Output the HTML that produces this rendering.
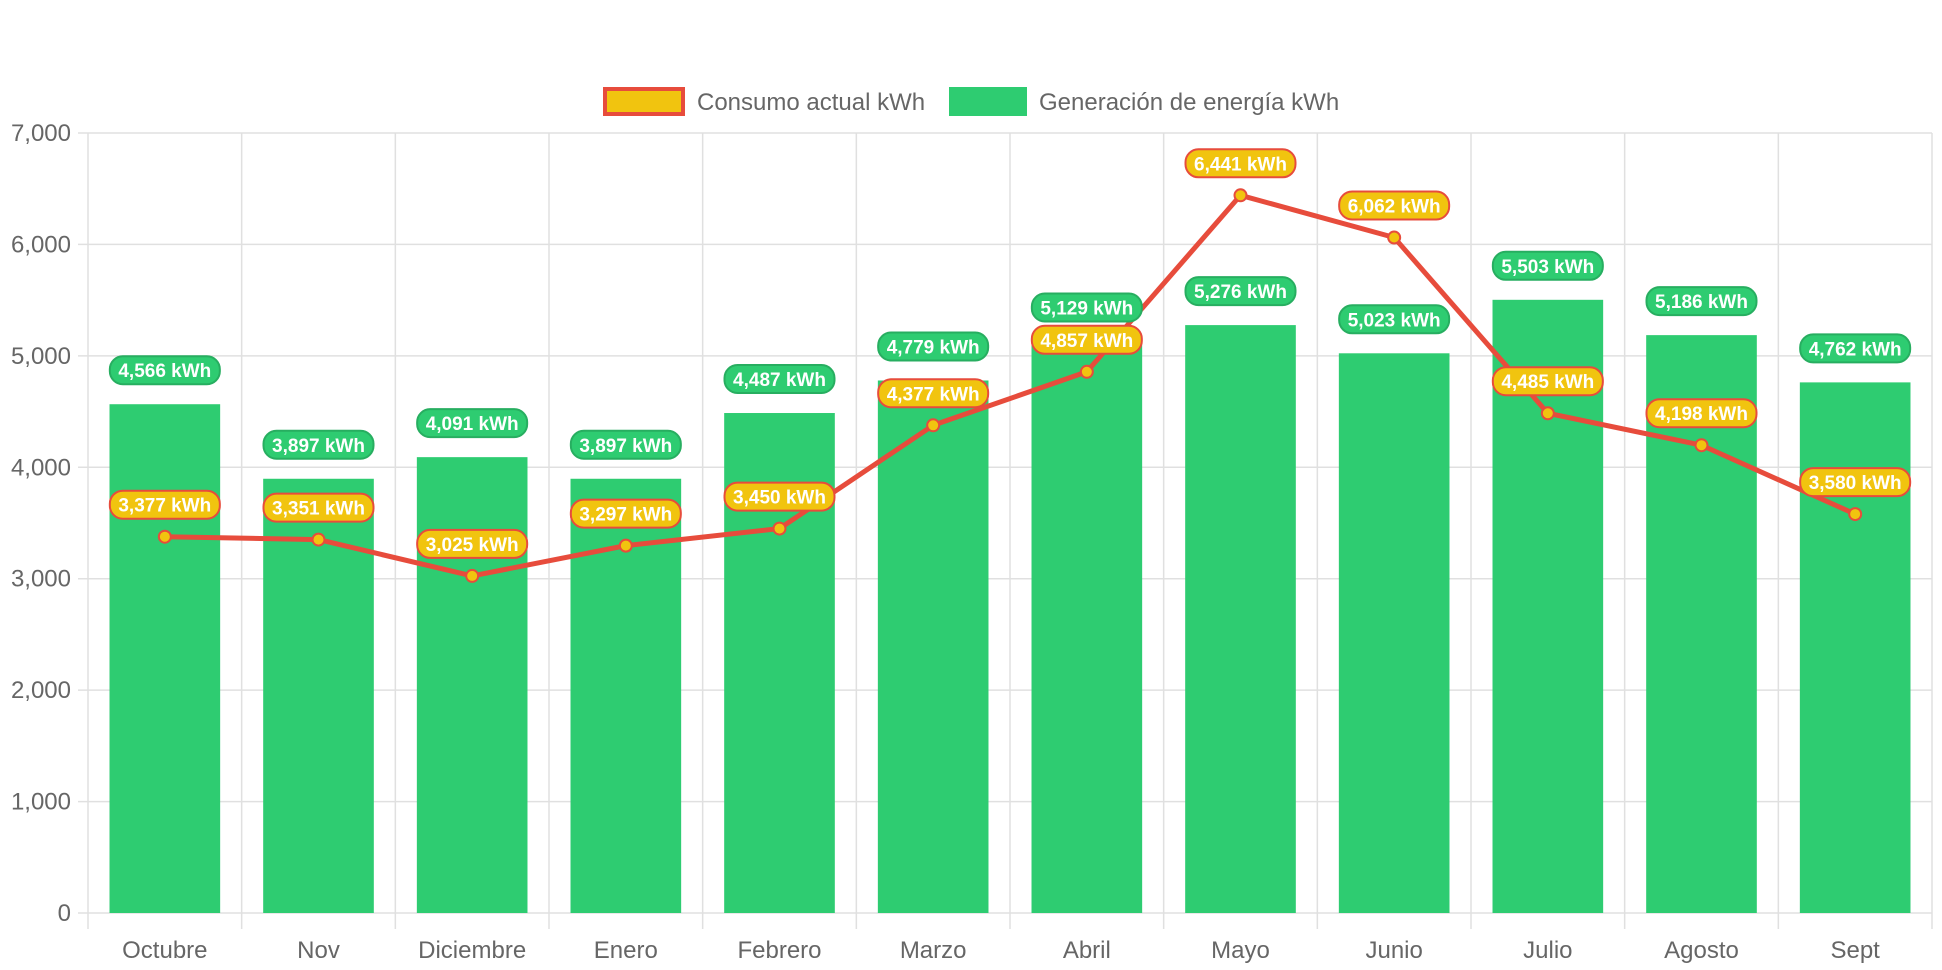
<!DOCTYPE html>
<html><head><meta charset="utf-8"><style>
html,body{margin:0;padding:0;background:#fff;}
svg{display:block;font-family:"Liberation Sans",Arial,sans-serif;}
</style></head><body>
<svg id="chart" width="1942" height="970" viewBox="0 0 1942 970" xmlns="http://www.w3.org/2000/svg">
<g id="legend">
  <g>
    <rect x="605" y="89" width="78" height="25" fill="#f1c40f" stroke="#e74c3c" stroke-width="4"/>
    <text x="697" y="110" font-size="24" fill="#666">Consumo actual kWh</text>
  </g>
  <g>
    <rect x="949" y="87" width="78" height="29" fill="#2ecc71"/>
    <text x="1039" y="110" font-size="24" fill="#666">Generación de energía kWh</text>
  </g>
</g>
<g id="grid"></g>
<g id="bars"></g>
<g id="line"></g>
<g id="labels"></g>
</svg>
<script>
const categories = ["Octubre","Nov","Diciembre","Enero","Febrero","Marzo","Abril","Mayo","Junio","Julio","Agosto","Sept"];
const generacion = [4566,3897,4091,3897,4487,4779,5129,5276,5023,5503,5186,4762];
const consumo = [3377,3351,3025,3297,3450,4377,4857,6441,6062,4485,4198,3580];
const yTicks = [0,1000,2000,3000,4000,5000,6000,7000];

const NS="http://www.w3.org/2000/svg";
const L=88,R=1932,T=133,B=913,YMAX=7000;
const cw=(R-L)/categories.length;
const y=v=>B-(v/YMAX)*(B-T);
const xc=i=>L+cw*(i+0.5);
function mk(tag,attrs,parent,txt){const e=document.createElementNS(NS,tag);for(const k in attrs)e.setAttribute(k,attrs[k]);if(txt!==undefined)e.textContent=txt;parent.appendChild(e);return e;}
const fmt=v=>v.toLocaleString('en-US');
const grid=document.getElementById('grid'),bars=document.getElementById('bars'),line=document.getElementById('line'),labels=document.getElementById('labels');

yTicks.forEach(t=>{
  const g=mk('line',{x1:L-10,x2:R,y1:y(t),y2:y(t),stroke:'#e0e0e0','stroke-width':1.5},grid);
  
  
  const tx=mk('text',{x:L-17,y:y(t)+8,'font-size':24,fill:'#666','text-anchor':'end'},grid,fmt(t));
  
  
});
for(let i=0;i<=categories.length;i++){
  const gx=L+cw*i;
  const g=mk('line',{x1:gx,x2:gx,y1:T,y2:929,stroke:'#e0e0e0','stroke-width':1.5},grid);
  
  
}
categories.forEach((c,i)=>{
  const tx=mk('text',{x:xc(i),y:958,'font-size':24,fill:'#666','text-anchor':'middle'},grid,c);
  
  
});
const bw=cw*0.72;
generacion.forEach((v,i)=>{
  const r=mk('rect',{x:xc(i)-bw/2,y:y(v),width:bw,height:B-y(v),fill:'#2ecc71'},bars);
  
  
});
const pts=consumo.map((v,i)=>xc(i)+','+y(v)).join(' ');
const pl=mk('polyline',{points:pts,fill:'none',stroke:'#e74c3c','stroke-width':5,'stroke-linejoin':'round'},line);


consumo.forEach((v,i)=>{
  const c=mk('circle',{cx:xc(i),cy:y(v),r:6,fill:'#f1c40f',stroke:'#e74c3c','stroke-width':2},line);
  
  
});
function badge(cx,bottom,text,fill,stroke,name){
  const g=mk('g',{},labels);
  
  
  mk('rect',{x:cx-55,y:bottom-28,width:110,height:28,rx:13,fill:fill,stroke:stroke,'stroke-width':2},g);
  mk('text',{x:cx,y:bottom-7,'font-size':19,'font-weight':'bold',fill:'#fff','text-anchor':'middle'},g,text);
}
generacion.forEach((v,i)=>badge(xc(i),y(v)-20,fmt(v)+' kWh','#2ecc71','#27ae60','generacion-value-label'));
consumo.forEach((v,i)=>badge(xc(i),y(v)-18,fmt(v)+' kWh','#f1c40f','#e74c3c','consumo-value-label'));
</script>
</body></html>
